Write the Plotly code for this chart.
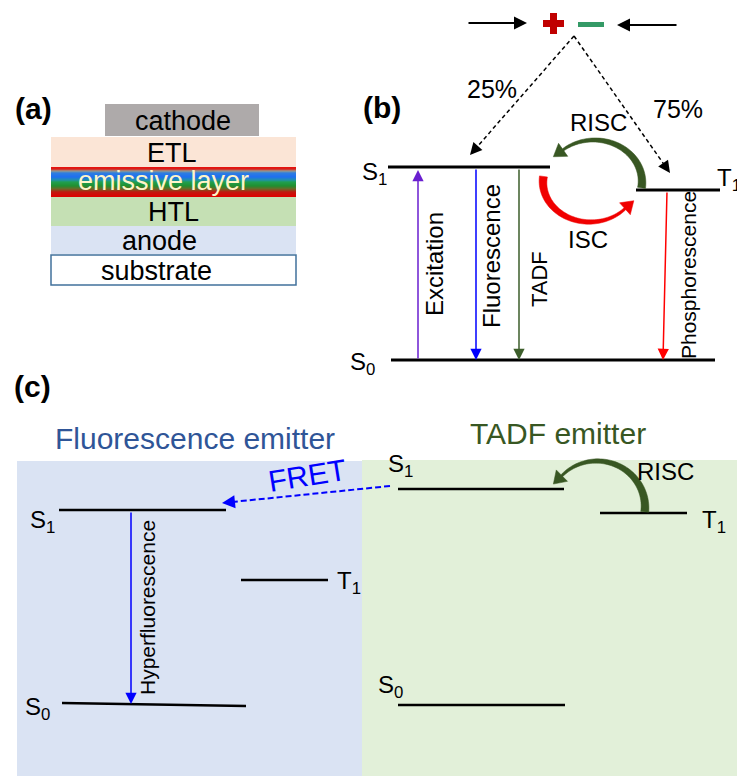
import numpy as np
import plotly.graph_objects as go

W, H = 737, 776
FONT = "Liberation Sans, Arial, sans-serif"

# ---------------- data ----------------
# (a) device stack
layer_names = ["cathode", "ETL", "emissive layer", "HTL", "anode", "substrate"]
layer_x0 = [105, 51, 51, 51, 51, 51]
layer_x1 = [259, 296, 296, 296, 296, 296]
layer_top = [104, 137, 167, 197, 226, 255]
layer_bot = [136, 167, 197, 226, 254, 285]
layer_colors = ["#AEAAAA", "#FBE5D6", None, "#C5E0B4", "#DAE3F3", "#FFFFFF"]
layer_text_x = [183, 172, 163, 173, 159, 156]
layer_text_y = [121, 153, 181, 212, 241, 271]
emissive_stops = [0.0, 0.07, 0.13, 0.2, 0.33, 0.43, 0.5, 0.63, 0.73, 0.83, 1.0]
emissive_colors = ["#E8100C", "#D8201C", "#9A9A8A", "#2F7FE0", "#1F6FF0", "#2090B0",
                   "#20A050", "#209030", "#6A6A28", "#C01A10", "#E00000"]

# (b) energy levels
b_level_names = ["S<sub>1</sub>", "T<sub>1</sub>", "S<sub>0</sub>"]
b_level_x0 = [388, 636, 391]
b_level_x1 = [550, 720, 715]
b_level_y = [167, 190, 360]
b_label_x = [360, 715, 348]
b_label_y = [173, 179, 363]

# (b) transitions
b_trans_names = ["Excitation", "Fluorescence", "TADF", "Phosphorescence"]
b_trans_x_from = [418, 476, 519, 667]
b_trans_x_to = [418, 476, 519, 663]
b_trans_y_from = [360, 168, 168, 191]
b_trans_y_to = [170, 360, 360, 360]
b_trans_colors = ["#6A1FD0", "#0000FF", "#3D5E2B", "#FF0000"]
b_trans_label_x = [434, 491, 539, 688]
b_trans_label_y = [264, 256, 279, 275]
b_trans_label_size = [24, 24, 22, 21]

# (b) spin statistics
spin_labels = ["25%", "75%"]
spin_pct = [25, 75]

# (c) levels
c_left_names = ["S<sub>1</sub>", "T<sub>1</sub>", "S<sub>0</sub>"]
c_left_x0 = [59, 241, 62]
c_left_x1 = [226, 328, 246]
c_left_y0 = [510, 580, 703]
c_left_y1 = [510, 580, 706]
c_left_label_x = [28, 335, 23]
c_left_label_y = [521, 582, 708]

c_right_names = ["S<sub>1</sub>", "T<sub>1</sub>", "S<sub>0</sub>"]
c_right_x0 = [398, 600, 398]
c_right_x1 = [564, 687, 565]
c_right_y = [489, 513, 705]
c_right_label_x = [386, 700, 376]
c_right_label_y = [465, 521, 686]

# ---------------- helpers ----------------
shapes = []
annotations = []


def rect(x0, y0, x1, y1, fill, line_color=None, lw=0):
    shapes.append(dict(type="rect", xref="x", yref="y", x0=x0, y0=y0, x1=x1, y1=y1,
                       fillcolor=fill, line=dict(color=line_color or fill, width=lw),
                       layer="below"))


def line(x0, y0, x1, y1, color="black", width=3, dash=None):
    d = dict(color=color, width=width)
    if dash:
        d["dash"] = dash
    shapes.append(dict(type="line", xref="x", yref="y", x0=x0, y0=y0, x1=x1, y1=y1, line=d))


def text(x, y, s, size, color="black", angle=0, bold=False, xanchor="center", family=FONT):
    if bold:
        s = "<b>" + s + "</b>"
    annotations.append(dict(x=x, y=y, xref="x", yref="y", text=s, showarrow=False,
                            textangle=angle, xanchor=xanchor, yanchor="middle",
                            font=dict(size=size, color=color, family=family)))


def arrow(x0, y0, x1, y1, color, width=1.5, size=1.6, head=2):
    annotations.append(dict(x=x1, y=y1, ax=x0, ay=y0, xref="x", yref="y", axref="x", ayref="y",
                            text="", showarrow=True, arrowhead=head, arrowsize=size,
                            arrowwidth=width, arrowcolor=color, standoff=0,
                            font=dict(size=10)))


def dashed_arrow(x0, y0, x1, y1, color, width=1.5, size=1.6, dash="dash"):
    v = np.array([x1 - x0, y1 - y0], float)
    L = np.hypot(*v)
    u = v / L
    bx, by = x1 - u[0] * 10, y1 - u[1] * 10
    line(x0, y0, bx, by, color=color, width=width, dash=dash)
    arrow(bx, by, x1, y1, color, width=width, size=size)


def curved_arrow(cx, cy, rx, ry, t0, t1, w0, w1, head_w, head_len, color):
    ts = np.radians(np.linspace(t0, t1, 60))
    px = cx + rx * np.cos(ts)
    py = cy - ry * np.sin(ts)
    dx = np.gradient(px)
    dy = np.gradient(py)
    n = np.hypot(dx, dy)
    dx, dy = dx / n, dy / n
    nx, ny = -dy, dx
    w = np.linspace(w0, w1, len(ts)) / 2
    left = list(zip(px + nx * w, py + ny * w))
    right = list(zip(px - nx * w, py - ny * w))
    ex, ey = px[-1], py[-1]
    tx, ty = dx[-1], dy[-1]
    lnx, lny = nx[-1], ny[-1]
    wing1 = (ex + lnx * head_w / 2, ey + lny * head_w / 2)
    tip = (ex + tx * head_len, ey + ty * head_len)
    wing2 = (ex - lnx * head_w / 2, ey - lny * head_w / 2)
    pts = left + [wing1, tip, wing2] + right[::-1]
    path = "M " + " L ".join(f"{a:.2f},{b:.2f}" for a, b in pts) + " Z"
    shapes.append(dict(type="path", xref="x", yref="y", path=path, fillcolor=color,
                       line=dict(color=color, width=0.5)))


def hexrgb(h):
    h = h.lstrip("#")
    return np.array([int(h[i:i + 2], 16) for i in (0, 2, 4)], float)


# ---------------- panel (a) ----------------
text(33, 108, "(a)", 30, bold=True)
for i, name in enumerate(layer_names):
    if name == "emissive layer":
        top, bot = layer_top[i], layer_bot[i]
        n = int(bot - top)
        cols = [hexrgb(c) for c in emissive_colors]
        for k in range(n):
            f = (k + 0.5) / n
            j = np.searchsorted(emissive_stops, f) - 1
            j = min(max(j, 0), len(emissive_stops) - 2)
            g = (f - emissive_stops[j]) / (emissive_stops[j + 1] - emissive_stops[j])
            c = cols[j] * (1 - g) + cols[j + 1] * g
            col = "rgb(%d,%d,%d)" % tuple(c)
            rect(layer_x0[i], top + k, layer_x1[i], top + k + 1.2, col)
        text(layer_text_x[i], layer_text_y[i], name, 27, color="#FFF5C8")
    elif name == "substrate":
        rect(layer_x0[i], layer_top[i], layer_x1[i], layer_bot[i], "#FFFFFF", "#41719C", 1.5)
        text(layer_text_x[i], layer_text_y[i], name, 27)
    else:
        rect(layer_x0[i], layer_top[i], layer_x1[i], layer_bot[i], layer_colors[i])
        text(layer_text_x[i], layer_text_y[i], name, 27)

# ---------------- panel (b) ----------------
text(382, 107, "(b)", 30, bold=True)
# charges
arrow(467, 23, 527, 23, "black", width=2, size=1.3)
arrow(678, 25, 617, 25, "black", width=2, size=1.3)
rect(543, 20, 564, 27, "#C00000")
rect(550, 13, 557, 34, "#C00000")
rect(578, 22, 604, 27, "#349A66")
# spin statistics
dashed_arrow(574, 36, 470, 155, "black", width=1.5, dash="4px,3px")
dashed_arrow(574, 36, 670, 173, "black", width=1.5, dash="4px,3px")
text(492, 89, spin_labels[0], 25)
text(678, 109, spin_labels[1], 25)

for i, nm in enumerate(b_level_names):
    line(b_level_x0[i], b_level_y[i], b_level_x1[i], b_level_y[i], width=3)
    text(b_label_x[i], b_label_y[i], nm, 24, xanchor="left")

for i, nm in enumerate(b_trans_names):
    arrow(b_trans_x_from[i], b_trans_y_from[i], b_trans_x_to[i], b_trans_y_to[i],
          b_trans_colors[i], width=1.5, size=1.5)
    text(b_trans_label_x[i], b_trans_label_y[i], nm, b_trans_label_size[i], angle=-90)

# RISC / ISC cycle
curved_arrow(594, 182, 48, 42, -8, 130, 8, 2.5, 16, 12, "#385723")
curved_arrow(590, 182, 47, 40, 172, 318, 8, 2.5, 16, 12, "#F00000")
text(598, 122, "RISC", 24)
text(588, 239, "ISC", 24)

# ---------------- panel (c) ----------------
text(32, 386, "(c)", 30, bold=True)
rect(17, 461, 362, 776, "#DAE3F3")
rect(362, 460, 737, 776, "#E2F0D9")
text(195, 438, "Fluorescence emitter", 30, color="#2F5597")
text(558, 433, "TADF emitter", 30, color="#385723")

for i, nm in enumerate(c_left_names):
    line(c_left_x0[i], c_left_y0[i], c_left_x1[i], c_left_y1[i], width=2.5)
    text(c_left_label_x[i], c_left_label_y[i], nm, 24, xanchor="left")
for i, nm in enumerate(c_right_names):
    line(c_right_x0[i], c_right_y[i], c_right_x1[i], c_right_y[i], width=2.5)
    text(c_right_label_x[i], c_right_label_y[i], nm, 24, xanchor="left")

arrow(131, 511, 131, 704, "#0000FF", width=1.5, size=1.5)
text(147, 608, "Hyperfluorescence", 21, angle=-90)

dashed_arrow(390, 486, 222, 503, "#0000FF", width=2, size=1.3, dash="6px,3px")
text(307, 475, "FRET", 30, color="#0000FF", angle=-9)

curved_arrow(597, 507, 48, 46, -6, 137, 8, 2.5, 16, 12, "#385723")
text(665, 471, "RISC", 24)

# ---------------- figure ----------------
fig = go.Figure()
fig.add_trace(go.Scatter(x=[0], y=[0], mode="markers", marker=dict(opacity=0), hoverinfo="skip"))
fig.update_layout(
    width=W, height=H,
    margin=dict(l=0, r=0, t=0, b=0),
    xaxis=dict(range=[0, W], visible=False, fixedrange=True),
    yaxis=dict(range=[H, 0], visible=False, fixedrange=True),
    plot_bgcolor="white", paper_bgcolor="white",
    showlegend=False,
    shapes=shapes,
    annotations=annotations,
)
fig.write_html("out.html", post_script="document.body.style.margin='0';",
               config={"displayModeBar": False})
